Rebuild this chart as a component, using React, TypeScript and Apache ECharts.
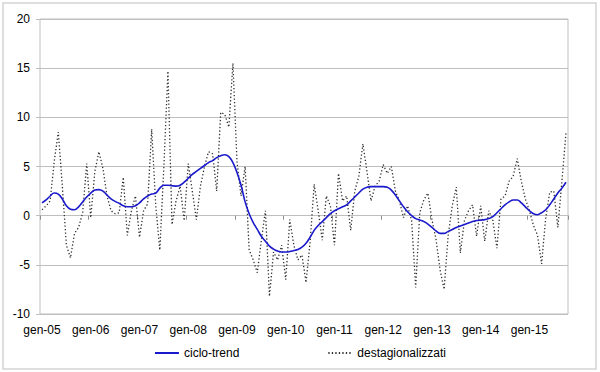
import React, { useEffect, useRef } from "react";
import * as echarts from "echarts";

const MONTHS = ["gen", "feb", "mar", "apr", "mag", "giu", "lug", "ago", "set", "ott", "nov", "dic"];
const YEARS = ["05", "06", "07", "08", "09", "10", "11", "12", "13", "14", "15"];
const N_POINTS = 130; // gen-05 .. ott-15

const categories: string[] = [];
for (const y of YEARS) for (const m of MONTHS) categories.push(`${m}-${y}`);
const cats = categories.slice(0, N_POINTS);

const cicloTrend = [
  1.3, 1.6, 2.0, 2.3, 2.2, 1.7, 1.0, 0.65, 0.6, 0.9, 1.4, 1.9,
  2.3, 2.6, 2.65, 2.5, 2.1, 1.7, 1.45, 1.25, 1.0, 0.9, 0.9, 1.0,
  1.3, 1.7, 2.0, 2.2, 2.3, 2.8, 3.1, 3.1, 3.05, 3.0, 3.1, 3.4,
  3.8, 4.2, 4.5, 4.8, 5.1, 5.4, 5.6, 5.9, 6.1, 6.2, 6.0, 5.4,
  4.4, 3.1, 1.4, 0.2, -0.7, -1.4, -2.1, -2.6, -3.1, -3.4, -3.6, -3.7,
  -3.7, -3.65, -3.55, -3.45, -3.2, -2.8, -2.2, -1.5, -1.0, -0.6, -0.2, 0.2,
  0.5, 0.7, 0.9, 1.1, 1.5, 1.9, 2.3, 2.7, 2.9, 2.95, 2.95, 2.95,
  2.95, 2.9, 2.6, 2.1, 1.5, 0.9, 0.4, 0.0, -0.3, -0.45, -0.6, -0.85,
  -1.2, -1.55, -1.8, -1.8, -1.6, -1.4, -1.2, -1.05, -0.9, -0.75, -0.6, -0.5,
  -0.45, -0.4, -0.3, -0.1, 0.3, 0.7, 1.1, 1.4, 1.6, 1.6, 1.3, 0.9,
  0.5, 0.2, 0.1, 0.3, 0.6, 1.1, 1.7, 2.3, 2.8, 3.4,
];

const destagionalizzati = [
  0.6, 1.0, 1.5, 5.5, 8.5, 3.0, -3.0, -4.3, -1.8, -1.2, 0.3, 5.3,
  -0.2, 4.5, 6.5, 4.8, 2.0, 0.5, 0.2, 0.3, 3.9, -2.0, 0.5, 2.0,
  -2.2, 0.5, 1.2, 8.8, 1.0, -3.5, 5.0, 14.7, -0.9, 1.5, 3.0, -0.5,
  5.3, 2.5, -0.4, 3.0, 5.0, 6.5, 6.3, 2.5, 10.5, 10.3, 9.0, 15.5,
  5.5, 2.0, 5.0, -3.5, -4.5, -5.8, -2.5, 0.5, -8.2, -3.7, -4.5, -3.0,
  -6.5, -0.4, -3.0, -4.5, -4.0, -6.8, -2.7, 3.2, 0.5, -2.5, 2.0, 1.0,
  -3.0, 4.3, 1.5, 2.0, -1.5, 2.5, 4.0, 7.3, 4.5, 1.5, 3.0, 3.5,
  5.2, 4.3, 5.0, 2.5, 1.5, -0.2, 1.0, -0.5, -7.3, 0.3, 1.6, 2.3,
  -0.4, -2.4, -5.5, -7.5, -2.0, 1.0, 2.9, -3.8, -0.5, 0.5, 1.1, -2.1,
  1.0, -2.6, 0.5, -0.5, -3.3, 1.7, 2.0, 3.5, 4.0, 5.8, 3.5, 1.7,
  0.5, -1.0, -2.0, -4.9, -0.3, 2.4, 2.5, -1.2, 3.5, 8.4,
];

const Y_MIN = -10;
const Y_MAX = 20;
const Y_STEP = 5;

const FONT = 'Arial, "Liberation Sans", sans-serif';
const GRAY = "#bfbfbf";

export default function App() {
  const ref = useRef<HTMLDivElement>(null);
  useEffect(() => {
    if (!ref.current) return;
    const chart = echarts.init(ref.current, undefined, { renderer: "svg" });
    chart.setOption({
      animation: false,
      backgroundColor: "#ffffff",
      textStyle: { fontFamily: FONT },
      graphic: [
        {
          type: "rect",
          shape: { x: 3, y: 3, width: 593, height: 366 },
          style: { fill: "none", stroke: "#d4d4d4", lineWidth: 1.5 },
          silent: true,
        },
      ],
      grid: {
        left: 40,
        top: 19,
        width: 528,
        height: 295,
        show: true,
        borderColor: GRAY,
        borderWidth: 1,
        containLabel: false,
      },
      legend: {
        left: "center",
        top: 342,
        itemWidth: 24,
        itemHeight: 12,
        itemGap: 88,
        itemStyle: { color: "transparent", borderColor: "transparent", borderWidth: 0, opacity: 0 },
        textStyle: { fontSize: 12, color: "#000", fontFamily: FONT },
        data: ["ciclo-trend", "destagionalizzati"],
      },
      xAxis: [
        {
          type: "category",
          data: cats,
          boundaryGap: true,
          position: "bottom",
          axisLine: { show: true, onZero: true, lineStyle: { color: GRAY, width: 1 } },
          axisTick: { show: true, interval: 11, length: 4, lineStyle: { color: "#8c8c8c" } },
          axisLabel: { show: false },
          splitLine: { show: false },
        },
        {
          type: "category",
          data: cats,
          boundaryGap: true,
          position: "bottom",
          axisLine: { show: false, onZero: false },
          axisTick: { show: false },
          axisLabel: {
            show: true,
            interval: 11,
            margin: 10,
            fontSize: 12,
            color: "#000",
            fontFamily: FONT,
          },
          splitLine: { show: false },
        },
      ],
      yAxis: {
        type: "value",
        min: Y_MIN,
        max: Y_MAX,
        interval: Y_STEP,
        axisLine: { show: false },
        axisTick: { show: true, length: 4, lineStyle: { color: GRAY } },
        axisLabel: { fontSize: 12, color: "#000", margin: 10, fontFamily: FONT },
        splitLine: { show: true, lineStyle: { color: GRAY, width: 1 } },
      },
      series: [
        {
          name: "ciclo-trend",
          type: "line",
          data: cicloTrend,
          xAxisIndex: 0,
          symbol: "none",
          smooth: 0.4,
          z: 3,
          lineStyle: { color: "#1a1acc", width: 1.6 },
          itemStyle: { color: "#1a1acc" },
        },
        {
          name: "destagionalizzati",
          type: "line",
          data: destagionalizzati,
          xAxisIndex: 0,
          symbol: "none",
          z: 2,
          lineStyle: { color: "#303030", width: 1.3, type: [1.3, 2.2] },
          itemStyle: { color: "#303030" },
        },
      ],
    });
    return () => chart.dispose();
  }, []);
  return (
    <div
      ref={ref}
      style={{ position: "absolute", left: 0, top: 0, width: 600, height: 372, background: "#fff" }}
    />
  );
}
